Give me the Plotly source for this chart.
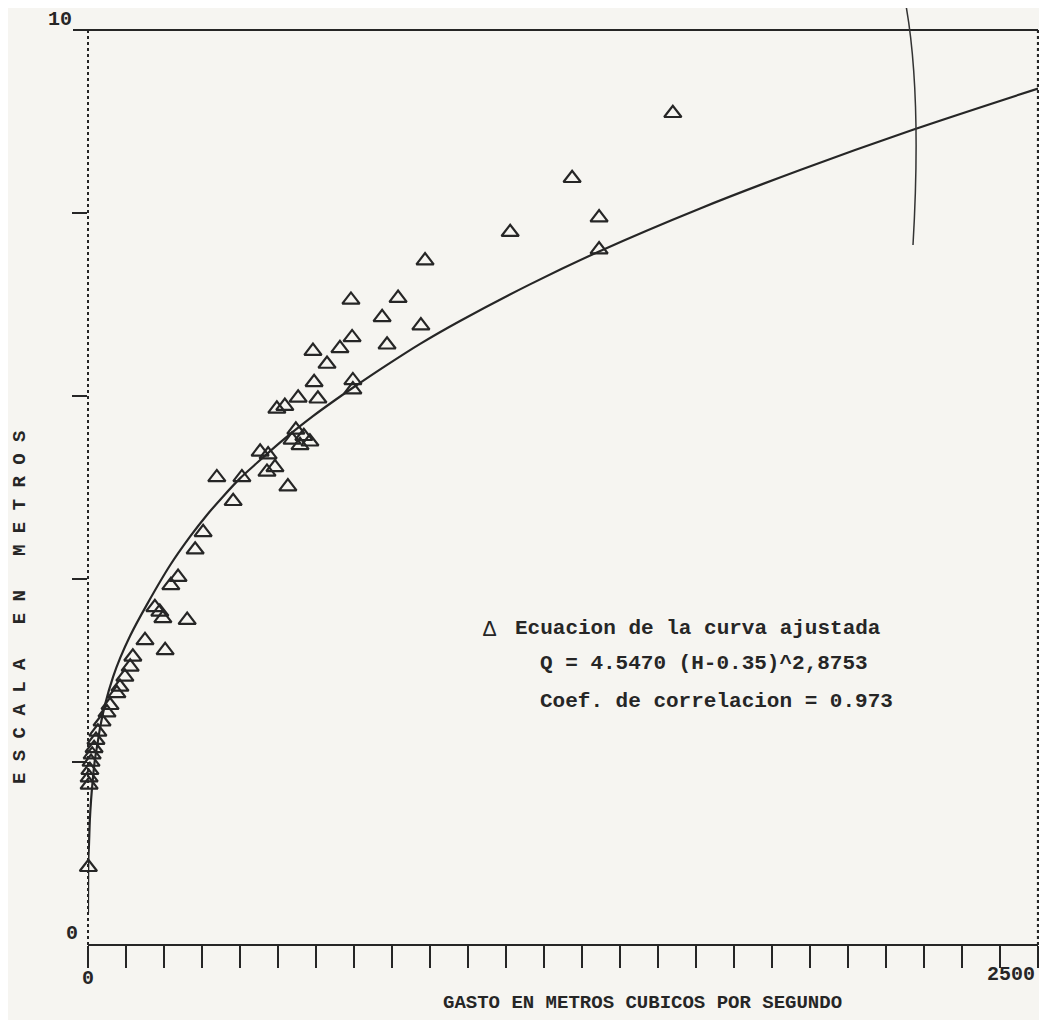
import plotly.graph_objects as go

q_obs = [1539, 1274, 1345, 1345, 1111, 887, 876, 816, 774, 787, 692, 695, 663, 592, 629,
         595, 697, 697, 605, 553, 518, 497, 547, 568, 584, 558, 537, 453, 474, 492, 471,
         526, 339, 405, 382, 303, 282, 237, 218, 176, 189, 197, 261, 150, 203, 118, 111,
         97, 84, 76, 58, 50, 37, 26, 21, 16, 11, 8, 5, 3, 3, 1]
h_obs = [9.09, 8.38, 7.95, 7.60, 7.79, 7.48, 6.77, 7.07, 6.86, 6.56, 7.05, 6.64, 6.52, 6.49, 6.35,
         6.15, 6.17, 6.07, 5.97, 5.98, 5.89, 5.86, 5.63, 5.56, 5.50, 5.46, 5.52, 5.39, 5.36, 5.22, 5.17,
         5.01, 5.11, 5.11, 4.85, 4.51, 4.32, 4.02, 3.93, 3.69, 3.64, 3.57, 3.55, 3.33, 3.22, 3.15, 3.04,
         2.93, 2.82, 2.75, 2.62, 2.54, 2.44, 2.33, 2.24, 2.15, 2.08, 2.00, 1.91, 1.83, 1.75, 0.85]

# Fitted curve as drawn in the picture
q_curve = [0, 1, 2.6, 5, 8, 12, 18, 25, 32, 45, 66, 85, 111, 155, 216, 268, 313, 355, 400, 445,
           505, 558, 592, 645, 697, 787, 874, 979, 1163, 1345, 1611, 1874, 2171, 2500]
h_curve = [0.35, 0.94, 1.10, 1.38, 1.58, 1.78, 2.02, 2.20, 2.38, 2.63, 2.93, 3.14, 3.38, 3.72,
           4.15, 4.46, 4.70, 4.90, 5.10, 5.27, 5.49, 5.67, 5.78, 5.94, 6.09, 6.34, 6.57, 6.82,
           7.22, 7.58, 8.05, 8.47, 8.91, 9.36]

x_tick_vals = list(range(0, 2501, 100))
y_tick_vals = [2, 4, 6, 8]
x_labels = ["0", "2500"]
y_labels = ["10", "0"]

legend_lines = ["Ecuacion de la curva ajustada",
                "Q = 4.5470 (H-0.35)^2,8753",
                "Coef. de correlacion = 0.973"]
x_title = "GASTO EN METROS CUBICOS POR SEGUNDO"
y_title = "E S C A L A   E N   M E T R O S"

INK = "#262626"
BG = "#f6f5f1"
FONT = "Liberation Mono"

fig = go.Figure()
fig.add_trace(go.Scatter(x=q_curve, y=h_curve, mode="lines",
                         line=dict(color=INK, width=2.2, shape="spline", smoothing=0.8),
                         hoverinfo="skip", showlegend=False))
fig.add_trace(go.Scatter(x=q_obs, y=h_obs, mode="markers",
                         marker=dict(symbol="triangle-up-open", size=15, color=INK,
                                     line=dict(color=INK, width=2.2)),
                         showlegend=False, cliponaxis=False))

# page offset of 8px (body margin) taken into account
OFF = 8
W, H = 1031, 1012
PL, PR, PT, PB = 88, 1038, 30, 945          # plot area in page pixels
L, T = PL - OFF, PT - OFF
R = W + OFF - PR
B = H + OFF - PB
fig.update_layout(
    width=W, height=H,
    margin=dict(l=L, r=R, t=T, b=B),
    paper_bgcolor=BG, plot_bgcolor=BG,
    font=dict(family=FONT, color=INK),
    xaxis=dict(range=[0, 2500], showgrid=False, zeroline=False, showline=False,
               tickvals=x_tick_vals, ticks="outside", ticklen=22, tickwidth=2,
               tickcolor=INK, showticklabels=False),
    yaxis=dict(range=[0, 10], showgrid=False, zeroline=False, showline=False,
               tickvals=y_tick_vals, ticks="outside", ticklen=15, tickwidth=2,
               tickcolor=INK, showticklabels=False),
)


def px_x(px):
    return (px - PL) / (PR - PL)


def px_y(py):
    return (PB - py) / (PB - PT)


# frame
fig.add_shape(type="line", xref="paper", yref="paper", x0=px_x(73), x1=1, y0=1, y1=1,
              line=dict(color=INK, width=2.2))
fig.add_shape(type="line", xref="paper", yref="paper", x0=0, x1=0, y0=0, y1=1,
              line=dict(color=INK, width=2, dash="dot"))
fig.add_shape(type="line", xref="paper", yref="paper", x0=1, x1=1, y0=0, y1=1,
              line=dict(color=INK, width=2.2, dash="dot"))
fig.add_shape(type="line", xref="paper", yref="paper", x0=0, x1=1, y0=0, y1=0,
              line=dict(color=INK, width=2))

# hand-drawn pen mark
fig.add_shape(type="path", xref="paper", yref="paper",
              path=f"M {px_x(905)},{px_y(0)} Q {px_x(922)},{px_y(90)} {px_x(913)},{px_y(245)}",
              line=dict(color="#333333", width=1.5))

# tick labels
lab_font = dict(family=FONT, size=20, color=INK)
fig.add_annotation(x=px_x(74), y=px_y(30), xref="paper", yref="paper",
                   text="<b>" + y_labels[0] + "</b>", showarrow=False,
                   xanchor="right", yanchor="bottom", yshift=-3, font=lab_font)
fig.add_annotation(x=px_x(80), y=px_y(945), xref="paper", yref="paper",
                   text="<b>" + y_labels[1] + "</b>", showarrow=False,
                   xanchor="right", yanchor="bottom", yshift=-2, font=lab_font)
fig.add_annotation(x=0, y=px_y(945), xref="paper", yref="paper",
                   text="<b>" + x_labels[0] + "</b>", showarrow=False,
                   xanchor="center", yanchor="top", yshift=-20, font=lab_font)
fig.add_annotation(x=px_x(1037), y=px_y(945), xref="paper", yref="paper",
                   text="<b>" + x_labels[1] + "</b>", showarrow=False,
                   xanchor="right", yanchor="top", yshift=-16, font=lab_font)

# axis titles
fig.add_annotation(x=px_x(642), y=px_y(1003), xref="paper", yref="paper",
                   text="<b>" + x_title + "</b>", showarrow=False,
                   xanchor="center", yanchor="middle",
                   font=dict(family=FONT, size=19, color=INK))
fig.add_annotation(x=px_x(20), y=px_y(608), xref="paper", yref="paper",
                   text="<b>" + y_title + "</b>", showarrow=False, textangle=-90,
                   xanchor="center", yanchor="middle",
                   font=dict(family=FONT, size=19, color=INK))

# legend block
fig.add_annotation(x=px_x(490), y=px_y(630), xref="paper", yref="paper", text="Δ",
                   showarrow=False, xanchor="center", yanchor="middle",
                   font=dict(family=FONT, size=22, color=INK))
for i, py in enumerate([628, 663, 701]):
    fig.add_annotation(x=px_x(513 if i == 0 else 538), y=px_y(py), xref="paper", yref="paper",
                       text="<b>" + legend_lines[i] + "</b>", showarrow=False,
                       xanchor="left", yanchor="middle",
                       font=dict(family=FONT, size=21, color=INK))

fig.write_html("out.html")
